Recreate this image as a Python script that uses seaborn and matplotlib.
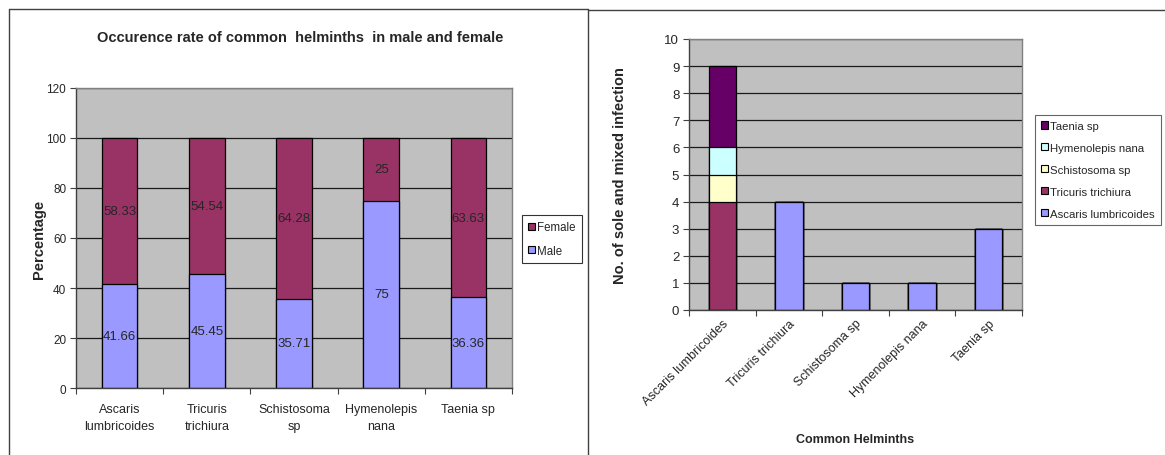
import matplotlib
matplotlib.use("Agg")
import matplotlib.pyplot as plt
from matplotlib.lines import Line2D
from matplotlib.patches import Patch
import seaborn as sns
import pandas as pd
import numpy as np

# ---- data -------------------------------------------------------------
helminths = ["Ascaris lumbricoides", "Tricuris trichiura", "Schistosoma sp",
             "Hymenolepis nana", "Taenia sp"]
sex_tick_labels = ["Ascaris\nlumbricoides", "Tricuris\ntrichiura", "Schistosoma\nsp",
                   "Hymenolepis\nnana", "Taenia sp"]
male_pct = [41.66, 45.45, 35.71, 75, 36.36]
female_pct = [58.33, 54.54, 64.28, 25, 63.63]

# sole and mixed infection counts, one series per helminth (stack order bottom -> top)
ascaris_counts = [0, 4, 1, 1, 3]
tricuris_counts = [4, 0, 0, 0, 0]
schistosoma_counts = [1, 0, 0, 0, 0]
hymenolepis_counts = [1, 0, 0, 0, 0]
taenia_counts = [3, 0, 0, 0, 0]

# ---- style ------------------------------------------------------------
sns.set_style("white")
plt.rcParams["font.family"] = ["Liberation Sans", "DejaVu Sans"]

PLOT_BG = "#C0C0C0"
C_MALE = "#9999FF"
C_FEMALE = "#993366"
C_SCHISTO = "#FFFFCC"
C_HYMENO = "#CCFFFF"
C_TAENIA = "#660066"

W, H = 1165, 456
fig = plt.figure(figsize=(W / 100, H / 100), dpi=100)
fig.patch.set_facecolor("white")


def px(x0, y0, x1, y1):
    """axes rectangle from pixel box (top-left origin)"""
    return [x0 / W, 1 - y1 / H, (x1 - x0) / W, (y1 - y0) / H]


def style_axes(ax, n, ymax, ystep, tick_fs):
    ax.set_facecolor(PLOT_BG)
    ax.set_xlim(-0.5, n - 0.5)
    ax.set_ylim(0, ymax)
    ax.set_yticks(np.arange(0, ymax + 0.001, ystep))
    ax.yaxis.grid(True, color="#1a1a1a", linewidth=0.9)
    ax.xaxis.grid(False)
    ax.set_axisbelow(True)
    for s in ("top", "right"):
        ax.spines[s].set_visible(True)
        ax.spines[s].set_color("#808080")
        ax.spines[s].set_linewidth(1.0)
    for s in ("left", "bottom"):
        ax.spines[s].set_color("#404040")
        ax.spines[s].set_linewidth(1.0)
    ax.tick_params(axis="y", which="major", left=True, length=4, width=0.8,
                   color="#404040", labelsize=tick_fs, pad=3)
    ax.set_xticks(np.arange(-0.5, n, 1.0), minor=True)
    ax.tick_params(axis="x", which="minor", bottom=True, length=4, width=0.8, color="#404040")
    ax.tick_params(axis="x", which="major", length=0, labelsize=tick_fs, pad=5)


bar_kw = dict(width=0.41, edgecolor="black", linewidth=0.9, saturation=1)

# ---- left: occurrence by sex -----------------------------------------
ax1 = fig.add_axes(px(76, 89, 512, 389))
sex_df = pd.DataFrame({"helminth": helminths, "male": male_pct, "female": female_pct})
sex_df["total"] = sex_df["male"] + sex_df["female"]

sns.barplot(data=sex_df, x="helminth", y="total", color=C_FEMALE, ax=ax1, **bar_kw)
sns.barplot(data=sex_df, x="helminth", y="male", color=C_MALE, ax=ax1, **bar_kw)
style_axes(ax1, len(helminths), 120, 20, 8.5)
ax1.set_xticks(range(len(helminths)))
ax1.set_xticklabels(sex_tick_labels, linespacing=1.5, fontsize=9)
ax1.tick_params(axis="x", which="major", pad=11)
ax1.set_xlabel("")
ax1.set_ylabel("Percentage", fontsize=10.5, fontweight="bold", labelpad=0)

for i, (m, f) in enumerate(zip(male_pct, female_pct)):
    ax1.text(i, m / 2, f"{m:g}", ha="center", va="center", fontsize=9.5)
    ax1.text(i, m + f / 2, f"{f:g}", ha="center", va="center", fontsize=9.5)

fig.text(300 / W, 1 - 38 / H, "Occurence rate of common  helminths  in male and female",
         ha="center", va="center", fontsize=10.5, fontweight="bold")

leg1 = ax1.legend(
    handles=[Patch(facecolor=C_FEMALE, edgecolor="black", linewidth=0.8, label="Female"),
             Patch(facecolor=C_MALE, edgecolor="black", linewidth=0.8, label="Male")],
    loc="upper left", bbox_to_anchor=(522 / W, 1 - 216 / H), bbox_transform=fig.transFigure,
    fontsize=8.3, frameon=True, fancybox=False, shadow=False, borderpad=0.55,
    handlelength=0.6, handleheight=0.6, handletextpad=0.15, labelspacing=1.0,
    borderaxespad=0)
leg1.get_frame().set_edgecolor("black")
leg1.get_frame().set_linewidth(0.8)

# ---- right: sole and mixed infections --------------------------------
ax2 = fig.add_axes(px(689, 40, 1022, 311))
series = [("Ascaris lumbricoides", ascaris_counts, C_MALE),
          ("Tricuris trichiura", tricuris_counts, C_FEMALE),
          ("Schistosoma sp", schistosoma_counts, C_SCHISTO),
          ("Hymenolepis nana", hymenolepis_counts, C_HYMENO),
          ("Taenia sp", taenia_counts, C_TAENIA)]
cum = np.cumsum(np.array([s[1] for s in series], dtype=float), axis=0)
# draw cumulative heights from the top layer down so each segment shows its own colour
for k in range(len(series) - 1, -1, -1):
    layer = pd.DataFrame({"helminth": helminths, "value": cum[k]})
    sns.barplot(data=layer, x="helminth", y="value", color=series[k][2], ax=ax2, **bar_kw)
style_axes(ax2, len(helminths), 10, 1, 9.5)
ax2.set_xticks(range(len(helminths)))
ax2.set_xticklabels(helminths, rotation=45, ha="right", rotation_mode="anchor", fontsize=9)
ax2.set_xlabel("Common Helminths", fontsize=9, fontweight="bold", labelpad=19)
ax2.set_ylabel("No. of sole and mixed infection", fontsize=10.5, fontweight="bold", labelpad=27)

leg2 = ax2.legend(
    handles=[Patch(facecolor=c, edgecolor="black", linewidth=0.8, label=n)
             for n, _, c in reversed(series)],
    loc="lower left", bbox_to_anchor=(1035 / W, 1 - 226 / H), bbox_transform=fig.transFigure,
    fontsize=8.2, frameon=True, fancybox=False, shadow=False, borderpad=0.55,
    handlelength=0.6, handleheight=0.6, handletextpad=0.15, labelspacing=1.05,
    borderaxespad=0)
leg2.get_frame().set_edgecolor("#404040")
leg2.get_frame().set_linewidth(0.8)

# ---- panel frames -----------------------------------------------------
frame_kw = dict(color="#404040", linewidth=1.0, transform=fig.transFigure)
fig.add_artist(Line2D([9 / W, 9 / W], [0, 1 - 10 / H], **frame_kw))
fig.add_artist(Line2D([588 / W, 588 / W], [0, 1 - 10 / H], **frame_kw))
fig.add_artist(Line2D([9 / W, 588 / W], [1 - 10 / H, 1 - 10 / H], **frame_kw))
fig.add_artist(Line2D([588 / W, 1], [1 - 11 / H, 1 - 11 / H], **frame_kw))

fig.savefig("out.png", dpi=100, facecolor="white")
